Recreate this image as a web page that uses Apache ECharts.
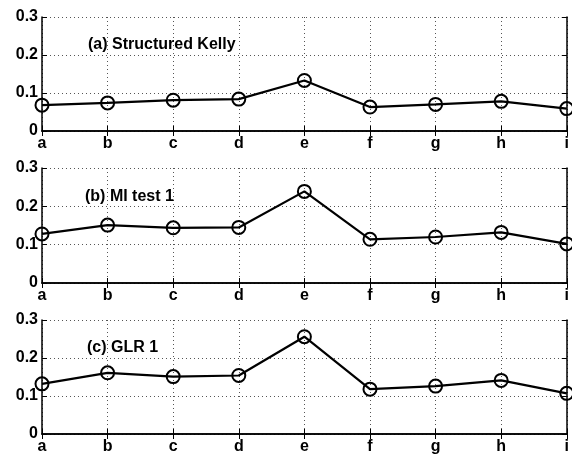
<!DOCTYPE html>
<html><head><meta charset="utf-8">
<script src="https://cdn.jsdelivr.net/npm/echarts@6/dist/echarts.min.js"></script>
<style>html,body{margin:0;padding:0;background:#fff}#c{width:572px;height:458px}</style>
</head><body><div id="c"></div>
<script>
var categories = ['a','b','c','d','e','f','g','h','i'];
var seriesA = [0.068,0.074,0.081,0.084,0.133,0.063,0.070,0.078,0.059];
var seriesB = [0.128,0.151,0.144,0.145,0.239,0.114,0.120,0.132,0.102];
var seriesC = [0.132,0.161,0.151,0.154,0.256,0.118,0.126,0.141,0.107];
var panelTitles = ['(a) Structured Kelly','(b) MI test 1','(c) GLR 1'];
var yTicks = {min:0,max:0.3,interval:0.1};
var allSeries = [seriesA, seriesB, seriesC];

var font = 'Liberation Sans, Arial, sans-serif';
var grids = [
  {left:42,right:2,top:17,height:114},
  {left:42,right:2,top:168,height:115},
  {left:42,right:2,top:320,height:114}
];
var titlePos = [{left:88,top:37},{left:85,top:189},{left:87,top:340}];
var xAxes=[], yAxes=[], series=[], titles=[];
var gridLine = {show:true,lineStyle:{color:'#555',type:[1,3],width:1}};
for (var i=0;i<3;i++){
  xAxes.push({gridIndex:i,type:'category',data:categories,boundaryGap:false,position:'bottom',
    axisLine:{lineStyle:{color:'#000',width:1.5}},
    axisTick:{inside:true,length:5,lineStyle:{color:'#000'}},
    axisLabel:{color:'#000',fontFamily:font,fontWeight:'bold',fontSize:16,margin:5},
    splitLine:gridLine});
  xAxes.push({gridIndex:i,type:'category',data:categories,boundaryGap:false,position:'top',
    axisLine:{lineStyle:{color:'#000',width:1.5}},
    axisTick:{inside:true,length:5,lineStyle:{color:'#000'}},
    axisLabel:{show:false},splitLine:{show:false}});
  yAxes.push({gridIndex:i,type:'value',min:yTicks.min,max:yTicks.max,interval:yTicks.interval,position:'left',
    axisLine:{show:true,lineStyle:{color:'#000',width:1.5}},
    axisTick:{show:true,inside:true,length:5,lineStyle:{color:'#000'}},
    axisLabel:{color:'#000',fontFamily:font,fontWeight:'bold',fontSize:16,margin:4},
    splitLine:gridLine});
  yAxes.push({gridIndex:i,type:'value',min:yTicks.min,max:yTicks.max,interval:yTicks.interval,position:'right',
    axisLine:{show:true,lineStyle:{color:'#000',width:1.5}},
    axisTick:{show:true,inside:true,length:5,lineStyle:{color:'#000'}},
    axisLabel:{show:false},splitLine:{show:false}});
  series.push({type:'line',xAxisIndex:2*i,yAxisIndex:2*i,data:allSeries[i],
    symbol:'circle',symbolSize:13,showAllSymbol:true,
    lineStyle:{color:'#000',width:2.2},
    itemStyle:{color:'rgba(0,0,0,0)',borderColor:'#000',borderWidth:2},
    emphasis:{disabled:true},animation:false,z:5});
  titles.push({text:panelTitles[i],left:titlePos[i].left,top:titlePos[i].top,padding:0,
    textStyle:{color:'#000',fontFamily:font,fontWeight:'bold',fontSize:16}});
}
var chart = echarts.init(document.getElementById('c'));
chart.setOption({animation:false,title:titles,grid:grids,xAxis:xAxes,yAxis:yAxes,series:series});
</script></body></html>
